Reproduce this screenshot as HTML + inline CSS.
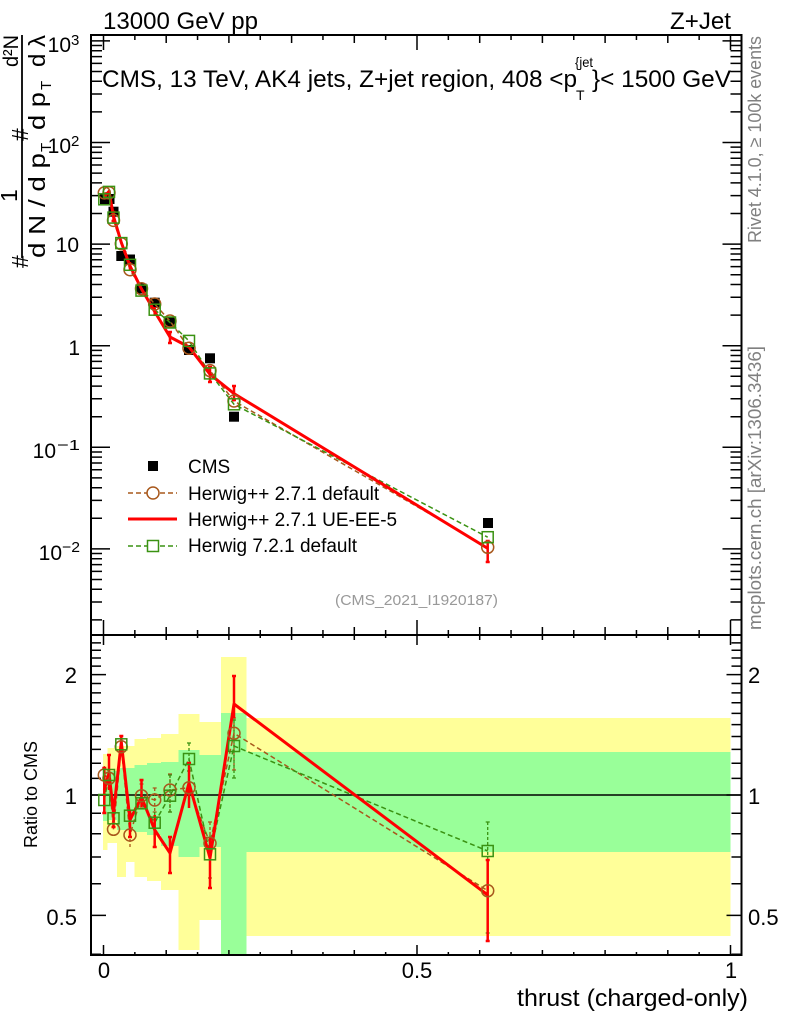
<!DOCTYPE html>
<html><head><meta charset="utf-8"><style>
html,body{margin:0;padding:0;background:#fff;}
svg{display:block;font-family:"Liberation Sans",Arial,Helvetica,sans-serif;}
</style></head><body>
<svg width="786" height="1024" viewBox="0 0 786 1024" xmlns="http://www.w3.org/2000/svg">
<rect width="786" height="1024" fill="#fff"/>

<!-- ratio bands: yellow -->
<g fill="#ffff99">
<rect x="103" y="754" width="4.5" height="96"/>
<rect x="107.5" y="748" width="9.5" height="95"/>
<rect x="117" y="746" width="9" height="131"/>
<rect x="126" y="746" width="8.5" height="116"/>
<rect x="134.5" y="739" width="12.5" height="138"/>
<rect x="147" y="738" width="14" height="143"/>
<rect x="161" y="734" width="17.5" height="156"/>
<rect x="178.5" y="714" width="21" height="236"/>
<rect x="199.5" y="722" width="21.5" height="198"/>
<rect x="221" y="657" width="25.5" height="298"/>
<rect x="246.5" y="718" width="484" height="218"/>
</g>
<!-- ratio bands: green -->
<g fill="#99ff99">
<rect x="103" y="771" width="4.5" height="50"/>
<rect x="107.5" y="771" width="9.5" height="49"/>
<rect x="117" y="768" width="9" height="62"/>
<rect x="126" y="768" width="8.5" height="62"/>
<rect x="134.5" y="765" width="12.5" height="67"/>
<rect x="147" y="763" width="14" height="72"/>
<rect x="161" y="762" width="17.5" height="84"/>
<rect x="178.5" y="750" width="21" height="107"/>
<rect x="199.5" y="755" width="21.5" height="92"/>
<rect x="221" y="713" width="25.5" height="242"/>
<rect x="246.5" y="752" width="484" height="100"/>
</g>

<!-- ratio = 1 line -->
<line x1="91" y1="795" x2="741.5" y2="795" stroke="#000" stroke-width="1.5"/>

<!-- frames -->
<rect x="91" y="35" width="650.5" height="600" fill="none" stroke="#000" stroke-width="2"/>
<rect x="91" y="635" width="650.5" height="320" fill="none" stroke="#000" stroke-width="2"/>

<!-- main x ticks -->
<path stroke="#000" stroke-width="1.5" fill="none" d="
M103.5,35v15 M417,35v15 M730.5,35v15
M166.2,35v8 M228.9,35v8 M291.6,35v8 M354.3,35v8 M479.7,35v8 M542.4,35v8 M605.1,35v8 M667.8,35v8
M134.85,35v5 M197.55,35v5 M260.25,35v5 M322.95,35v5 M385.65,35v5 M448.35,35v5 M511.05,35v5 M573.75,35v5 M636.45,35v5 M699.15,35v5
M103.5,635v-15 M417,635v-15 M730.5,635v-15
M166.2,635v-8 M228.9,635v-8 M291.6,635v-8 M354.3,635v-8 M479.7,635v-8 M542.4,635v-8 M605.1,635v-8 M667.8,635v-8
M134.85,635v-5 M197.55,635v-5 M260.25,635v-5 M322.95,635v-5 M385.65,635v-5 M448.35,635v-5 M511.05,635v-5 M573.75,635v-5 M636.45,635v-5 M699.15,635v-5
"/>
<!-- ratio x ticks -->
<path stroke="#000" stroke-width="1.5" fill="none" d="
M103.5,635v10 M417,635v10 M730.5,635v10
M166.2,635v5 M228.9,635v5 M291.6,635v5 M354.3,635v5 M479.7,635v5 M542.4,635v5 M605.1,635v5 M667.8,635v5
M134.85,635v3 M197.55,635v3 M260.25,635v3 M322.95,635v3 M385.65,635v3 M448.35,635v3 M511.05,635v3 M573.75,635v3 M636.45,635v3 M699.15,635v3
M103.5,955v-10 M417,955v-10 M730.5,955v-10
M166.2,955v-5 M228.9,955v-5 M291.6,955v-5 M354.3,955v-5 M479.7,955v-5 M542.4,955v-5 M605.1,955v-5 M667.8,955v-5
M134.85,955v-3 M197.55,955v-3 M260.25,955v-3 M322.95,955v-3 M385.65,955v-3 M448.35,955v-3 M511.05,955v-3 M573.75,955v-3 M636.45,955v-3 M699.15,955v-3
"/>

<!-- main y ticks left -->
<path stroke="#000" stroke-width="1.5" fill="none" d="
M91,40.9h19 M91,142.5h19 M91,244.1h19 M91,345.7h19 M91,447.3h19 M91,548.9h19
M91,45.55h11 M91,50.75h11 M91,56.6h11 M91,63.4h11 M91,71.5h11 M91,81.3h11 M91,94h11 M91,111.9h11
M91,147.15h11 M91,152.35h11 M91,158.2h11 M91,165h11 M91,173.1h11 M91,182.9h11 M91,195.6h11 M91,213.5h11
M91,248.75h11 M91,253.95h11 M91,259.8h11 M91,266.6h11 M91,274.7h11 M91,284.5h11 M91,297.2h11 M91,315.1h11
M91,350.35h11 M91,355.55h11 M91,361.4h11 M91,368.2h11 M91,376.3h11 M91,386.1h11 M91,398.8h11 M91,416.7h11
M91,451.95h11 M91,457.15h11 M91,463h11 M91,469.8h11 M91,477.9h11 M91,487.7h11 M91,500.4h11 M91,518.3h11
M91,553.55h11 M91,558.75h11 M91,564.6h11 M91,571.4h11 M91,579.5h11 M91,589.3h11 M91,602h11 M91,619.9h11
"/>
<!-- main y ticks right -->
<path stroke="#000" stroke-width="1.5" fill="none" d="
M741.5,40.9h-19 M741.5,142.5h-19 M741.5,244.1h-19 M741.5,345.7h-19 M741.5,447.3h-19 M741.5,548.9h-19
M741.5,45.55h-11 M741.5,50.75h-11 M741.5,56.6h-11 M741.5,63.4h-11 M741.5,71.5h-11 M741.5,81.3h-11 M741.5,94h-11 M741.5,111.9h-11
M741.5,147.15h-11 M741.5,152.35h-11 M741.5,158.2h-11 M741.5,165h-11 M741.5,173.1h-11 M741.5,182.9h-11 M741.5,195.6h-11 M741.5,213.5h-11
M741.5,248.75h-11 M741.5,253.95h-11 M741.5,259.8h-11 M741.5,266.6h-11 M741.5,274.7h-11 M741.5,284.5h-11 M741.5,297.2h-11 M741.5,315.1h-11
M741.5,350.35h-11 M741.5,355.55h-11 M741.5,361.4h-11 M741.5,368.2h-11 M741.5,376.3h-11 M741.5,386.1h-11 M741.5,398.8h-11 M741.5,416.7h-11
M741.5,451.95h-11 M741.5,457.15h-11 M741.5,463h-11 M741.5,469.8h-11 M741.5,477.9h-11 M741.5,487.7h-11 M741.5,500.4h-11 M741.5,518.3h-11
M741.5,553.55h-11 M741.5,558.75h-11 M741.5,564.6h-11 M741.5,571.4h-11 M741.5,579.5h-11 M741.5,589.3h-11 M741.5,602h-11 M741.5,619.9h-11
"/>

<!-- ratio y ticks -->
<path stroke="#000" stroke-width="1.5" fill="none" d="
M91,915.4h15 M91,795h15 M91,674.6h15
M91,954.2h10 M91,883.7h10 M91,857h10 M91,833.8h10 M91,813.3h10 M91,778.4h10 M91,763.3h10 M91,749.4h10 M91,736.5h10 M91,724.6h10 M91,713.4h10 M91,702.8h10 M91,692.9h10 M91,683.5h10 M91,666.1h10 M91,658h10 M91,650.3h10 M91,642.9h10
M741.5,915.4h-15 M741.5,795h-15 M741.5,674.6h-15
M741.5,954.2h-10 M741.5,883.7h-10 M741.5,857h-10 M741.5,833.8h-10 M741.5,813.3h-10 M741.5,778.4h-10 M741.5,763.3h-10 M741.5,749.4h-10 M741.5,736.5h-10 M741.5,724.6h-10 M741.5,713.4h-10 M741.5,702.8h-10 M741.5,692.9h-10 M741.5,683.5h-10 M741.5,666.1h-10 M741.5,658h-10 M741.5,650.3h-10 M741.5,642.9h-10
"/>

<!-- tick labels main y -->
<g font-size="21" fill="#000">
<text x="71" y="52" text-anchor="end">10</text><text x="71" y="45" font-size="15">3</text>
<text x="71" y="153" text-anchor="end">10</text><text x="71" y="146" font-size="15">2</text>
<text x="79" y="252" text-anchor="end">10</text>
<text x="80" y="355" text-anchor="end">1</text>
<text x="56" y="458" text-anchor="end">10</text><text x="57" y="450" font-size="15" textLength="23" lengthAdjust="spacingAndGlyphs">−1</text>
<text x="62" y="560" text-anchor="end">10</text><text x="62" y="552" font-size="15" textLength="18" lengthAdjust="spacingAndGlyphs">−2</text>
</g>
<!-- ratio y labels -->
<g font-size="22" fill="#000">
<text x="77" y="683" text-anchor="end">2</text>
<text x="77" y="804" text-anchor="end">1</text>
<text x="77" y="925" text-anchor="end">0.5</text>
<text x="748" y="683">2</text>
<text x="748" y="804">1</text>
<text x="748" y="925">0.5</text>
<text x="104" y="978" text-anchor="middle">0</text>
<text x="417" y="978" text-anchor="middle">0.5</text>
<text x="731" y="978" text-anchor="middle">1</text>
</g>

<!-- axis titles -->
<text x="517" y="1006" font-size="24" textLength="231" lengthAdjust="spacingAndGlyphs">thrust (charged-only)</text>
<text transform="translate(37,848) rotate(-90)" font-size="18" textLength="107" lengthAdjust="spacingAndGlyphs">Ratio to CMS</text>

<!-- y axis label (main) -->
<g font-size="23" fill="#000">
<text transform="translate(28,268) rotate(-90)">#</text>
<text transform="translate(17,202) rotate(-90)">1</text>
<text transform="translate(45,258) rotate(-90)" textLength="105" lengthAdjust="spacingAndGlyphs">d N / d p</text>
<text transform="translate(51,152) rotate(-90)" font-size="15">T</text>
<text transform="translate(28,141) rotate(-90)">#</text>
<text transform="translate(18,67) rotate(-90)" font-size="21" textLength="32" lengthAdjust="spacingAndGlyphs">d²N</text>
<text transform="translate(45,130) rotate(-90)" textLength="38" lengthAdjust="spacingAndGlyphs">d p</text>
<text transform="translate(51,90) rotate(-90)" font-size="15">T</text>
<text transform="translate(45,67) rotate(-90)" textLength="32" lengthAdjust="spacingAndGlyphs">d λ</text>
</g>
<line x1="22" y1="35" x2="22" y2="258" stroke="#000" stroke-width="1.8"/>

<!-- titles -->
<text x="103" y="29" font-size="24" textLength="155" lengthAdjust="spacingAndGlyphs">13000 GeV pp</text>
<text x="670" y="29" font-size="24" textLength="61" lengthAdjust="spacingAndGlyphs">Z+Jet</text>
<text x="102" y="87" font-size="24" textLength="475" lengthAdjust="spacingAndGlyphs">CMS, 13 TeV, AK4 jets, Z+jet region, 408 &lt;p</text>
<text x="575" y="67" font-size="14" textLength="18" lengthAdjust="spacingAndGlyphs">{jet</text>
<text x="576" y="100" font-size="14">T</text>
<text x="592" y="87" font-size="24" textLength="139" lengthAdjust="spacingAndGlyphs">}&lt; 1500 GeV</text>

<!-- side texts -->
<text transform="translate(761,243) rotate(-90)" font-size="18" fill="#808080" textLength="207" lengthAdjust="spacingAndGlyphs">Rivet 4.1.0, ≥ 100k events</text>
<text transform="translate(761,630) rotate(-90)" font-size="18" fill="#808080" textLength="284" lengthAdjust="spacingAndGlyphs">mcplots.cern.ch [arXiv:1306.3436]</text>
<text x="335" y="605" font-size="15" fill="#999" textLength="163" lengthAdjust="spacingAndGlyphs">(CMS_2021_I1920187)</text>

<!-- legend -->
<rect x="148" y="461" width="10" height="10" fill="#000"/>
<text x="188" y="473" font-size="19">CMS</text>
<line x1="128" y1="493" x2="177" y2="493" stroke="#a8581c" stroke-width="1.5" stroke-dasharray="5,3"/>
<circle cx="153" cy="493" r="6" fill="#fff" stroke="#a8581c" stroke-width="1.5"/>
<text x="188" y="500" font-size="19">Herwig++ 2.7.1 default</text>
<line x1="128" y1="519" x2="177" y2="519" stroke="#ff0000" stroke-width="3"/>
<text x="188" y="526" font-size="19">Herwig++ 2.7.1 UE-EE-5</text>
<line x1="128" y1="546" x2="177" y2="546" stroke="#3a9212" stroke-width="1.5" stroke-dasharray="5,3"/>
<rect x="147.5" y="540.5" width="11" height="11" fill="#fff" stroke="#3a9212" stroke-width="1.5"/>
<text x="188" y="552" font-size="19">Herwig 7.2.1 default</text>

<!-- main: CMS data -->
<g fill="#000">
<rect x="100" y="194" width="10" height="10"/>
<rect x="104.5" y="194" width="10" height="10"/>
<rect x="108.5" y="206.7" width="10" height="10"/>
<rect x="116.3" y="251" width="10" height="10"/>
<rect x="125" y="254.5" width="10" height="10"/>
<rect x="136.5" y="283.5" width="10" height="10"/>
<rect x="149.7" y="297.7" width="10" height="10"/>
<rect x="165" y="317.3" width="10" height="10"/>
<rect x="184" y="345" width="10" height="10"/>
<rect x="205" y="353.3" width="10" height="10"/>
<rect x="229" y="411.7" width="10" height="10"/>
<rect x="483" y="518" width="10" height="10"/>
</g>

<!-- main: brown -->
<polyline fill="none" stroke="#a8581c" stroke-width="1.5" stroke-dasharray="5,3" points="104.3,192.9 109,192.8 113.5,220.4 121.3,243.7 130,269.7 141.5,288.7 154.7,304 170,321 189,348.2 210,370.6 234,401 487.7,547.3"/>
<!-- main: green -->
<polyline fill="none" stroke="#3a9212" stroke-width="1.5" stroke-dasharray="5,3" points="104.3,199.3 109,191.9 113.5,217.6 121.3,243.1 130,264.8 141.5,290.6 154.7,309.7 170,322.5 189,340.9 210,373.4 234,404.3 487.7,537.2"/>
<!-- main: red -->
<polyline fill="none" stroke="#ff0000" stroke-width="3" stroke-linejoin="round" points="104.3,196.7 109,191.4 113.5,216.3 121.3,242.5 130,265.9 141.5,288.9 154.7,311.6 170,337 189,347 210,374.3 234,393.6 487.7,548.4"/>
<path stroke="#ff0000" stroke-width="2.5" fill="none" d="M113.5,212v9 M111.5,212h4 M111.5,221h4 M130,262v8 M154.7,307v9 M170,332v11 M168,332h4 M168,343h4 M210,367v15 M208,367h4 M208,382h4 M234,386v14 M232,386h4 M232,400h4 M487.7,541v21 M485.7,541h4 M485.7,562h4"/>

<g fill="none" stroke="#a8581c" stroke-width="1.5">
<circle cx="104.3" cy="192.9" r="6"/><circle cx="109" cy="192.8" r="6"/><circle cx="113.5" cy="220.4" r="6"/><circle cx="121.3" cy="243.7" r="6"/><circle cx="130" cy="269.7" r="6"/><circle cx="141.5" cy="288.7" r="6"/><circle cx="154.7" cy="304" r="6"/><circle cx="170" cy="321" r="6"/><circle cx="189" cy="348.2" r="6"/><circle cx="210" cy="370.6" r="6"/><circle cx="234" cy="401" r="6"/><circle cx="487.7" cy="547.3" r="6"/>
</g>
<g fill="none" stroke="#3a9212" stroke-width="1.5">
<rect x="98.8" y="193.8" width="11" height="11"/><rect x="103.5" y="186.4" width="11" height="11"/><rect x="108" y="212.1" width="11" height="11"/><rect x="115.8" y="237.6" width="11" height="11"/><rect x="124.5" y="259.3" width="11" height="11"/><rect x="136" y="285.1" width="11" height="11"/><rect x="149.2" y="304.2" width="11" height="11"/><rect x="164.5" y="317" width="11" height="11"/><rect x="183.5" y="335.4" width="11" height="11"/><rect x="204.5" y="367.9" width="11" height="11"/><rect x="228.5" y="398.8" width="11" height="11"/><rect x="482.2" y="531.7" width="11" height="11"/>
</g>

<!-- ratio: error bars brown/green dashed -->
<path stroke="#a8581c" stroke-width="1.3" fill="none" stroke-dasharray="3,2" d="M104.3,766v18 M121.3,738v16 M130,824v24 M141.5,784v24 M154.7,788v24 M170,774v38 M189,776v24 M210,822v56 M234,718v52 M487.7,860v80"/>
<path stroke="#a8581c" stroke-width="1.3" fill="none" d="M139.5,784h4 M139.5,808h4 M152.7,788h4 M152.7,812h4 M168,774h4 M168,812h4 M208,822h4 M208,878h4 M232,718h4 M232,770h4"/>
<path stroke="#3a9212" stroke-width="1.3" fill="none" stroke-dasharray="3,2" d="M109,765v20 M121.3,736v16 M154.7,812v22 M170,775v37 M189,743v28 M210,835v44 M234,720v58 M487.7,822v111"/>
<path stroke="#3a9212" stroke-width="1.3" fill="none" d="M187,743h4 M187,771h4 M168,775h4 M168,812h4 M232,720h4 M232,778h4 M485.7,822h4 M485.7,933h4"/>

<!-- ratio: brown dashed line -->
<polyline fill="none" stroke="#a8581c" stroke-width="1.5" stroke-dasharray="5,3" points="104.3,775 109,778.3 113.5,829.3 121.3,746.7 130,835 141.5,795.7 154.7,800 170,790 189,787.7 210,843.3 234,733.3 487.7,890.7"/>
<!-- ratio: green dashed line -->
<polyline fill="none" stroke="#3a9212" stroke-width="1.5" stroke-dasharray="5,3" points="104.3,800 109,775 113.5,818.3 121.3,744.3 130,815.7 141.5,803.3 154.7,822.7 170,795.7 189,759 210,854.3 234,746 487.7,851"/>
<!-- ratio: red -->
<polyline fill="none" stroke="#ff0000" stroke-width="3" stroke-linejoin="round" points="104.3,790 109,773 113.5,813 121.3,742 130,820 141.5,797 154.7,830 170,853 189,783 210,858 234,704 487.7,895"/>
<path stroke="#ff0000" stroke-width="2.5" fill="none" d="
M104.3,768v45 M102.3,768h4 M102.3,813h4
M109,755v35 M107,755h4
M113.5,800v27 M111.5,827h4
M121.3,736v16 M119.3,736h4
M130,810v27 M128,837h4
M141.5,780v27 M139.5,780h4
M154.7,815v32 M152.7,847h4
M170,837v36 M168,837h4 M168,873h4
M189,763v45 M187,763h4
M210,838v50 M208,888h4
M234,676v42 M232,676h4
M487.7,860v81 M485.7,860h4 M485.7,941h4"/>

<g fill="none" stroke="#a8581c" stroke-width="1.5">
<circle cx="104.3" cy="775" r="6"/><circle cx="109" cy="778.3" r="6"/><circle cx="113.5" cy="829.3" r="6"/><circle cx="121.3" cy="746.7" r="6"/><circle cx="130" cy="835" r="6"/><circle cx="141.5" cy="795.7" r="6"/><circle cx="154.7" cy="800" r="6"/><circle cx="170" cy="790" r="6"/><circle cx="189" cy="787.7" r="6"/><circle cx="210" cy="843.3" r="6"/><circle cx="234" cy="733.3" r="6"/><circle cx="487.7" cy="890.7" r="6"/>
</g>
<g fill="none" stroke="#3a9212" stroke-width="1.5">
<rect x="98.8" y="794.5" width="11" height="11"/><rect x="103.5" y="769.5" width="11" height="11"/><rect x="108" y="812.8" width="11" height="11"/><rect x="115.8" y="738.8" width="11" height="11"/><rect x="124.5" y="810.2" width="11" height="11"/><rect x="136" y="797.8" width="11" height="11"/><rect x="149.2" y="817.2" width="11" height="11"/><rect x="164.5" y="790.2" width="11" height="11"/><rect x="183.5" y="753.5" width="11" height="11"/><rect x="204.5" y="848.8" width="11" height="11"/><rect x="228.5" y="740.5" width="11" height="11"/><rect x="482.2" y="845.5" width="11" height="11"/>
</g>

</svg>
</body></html>
